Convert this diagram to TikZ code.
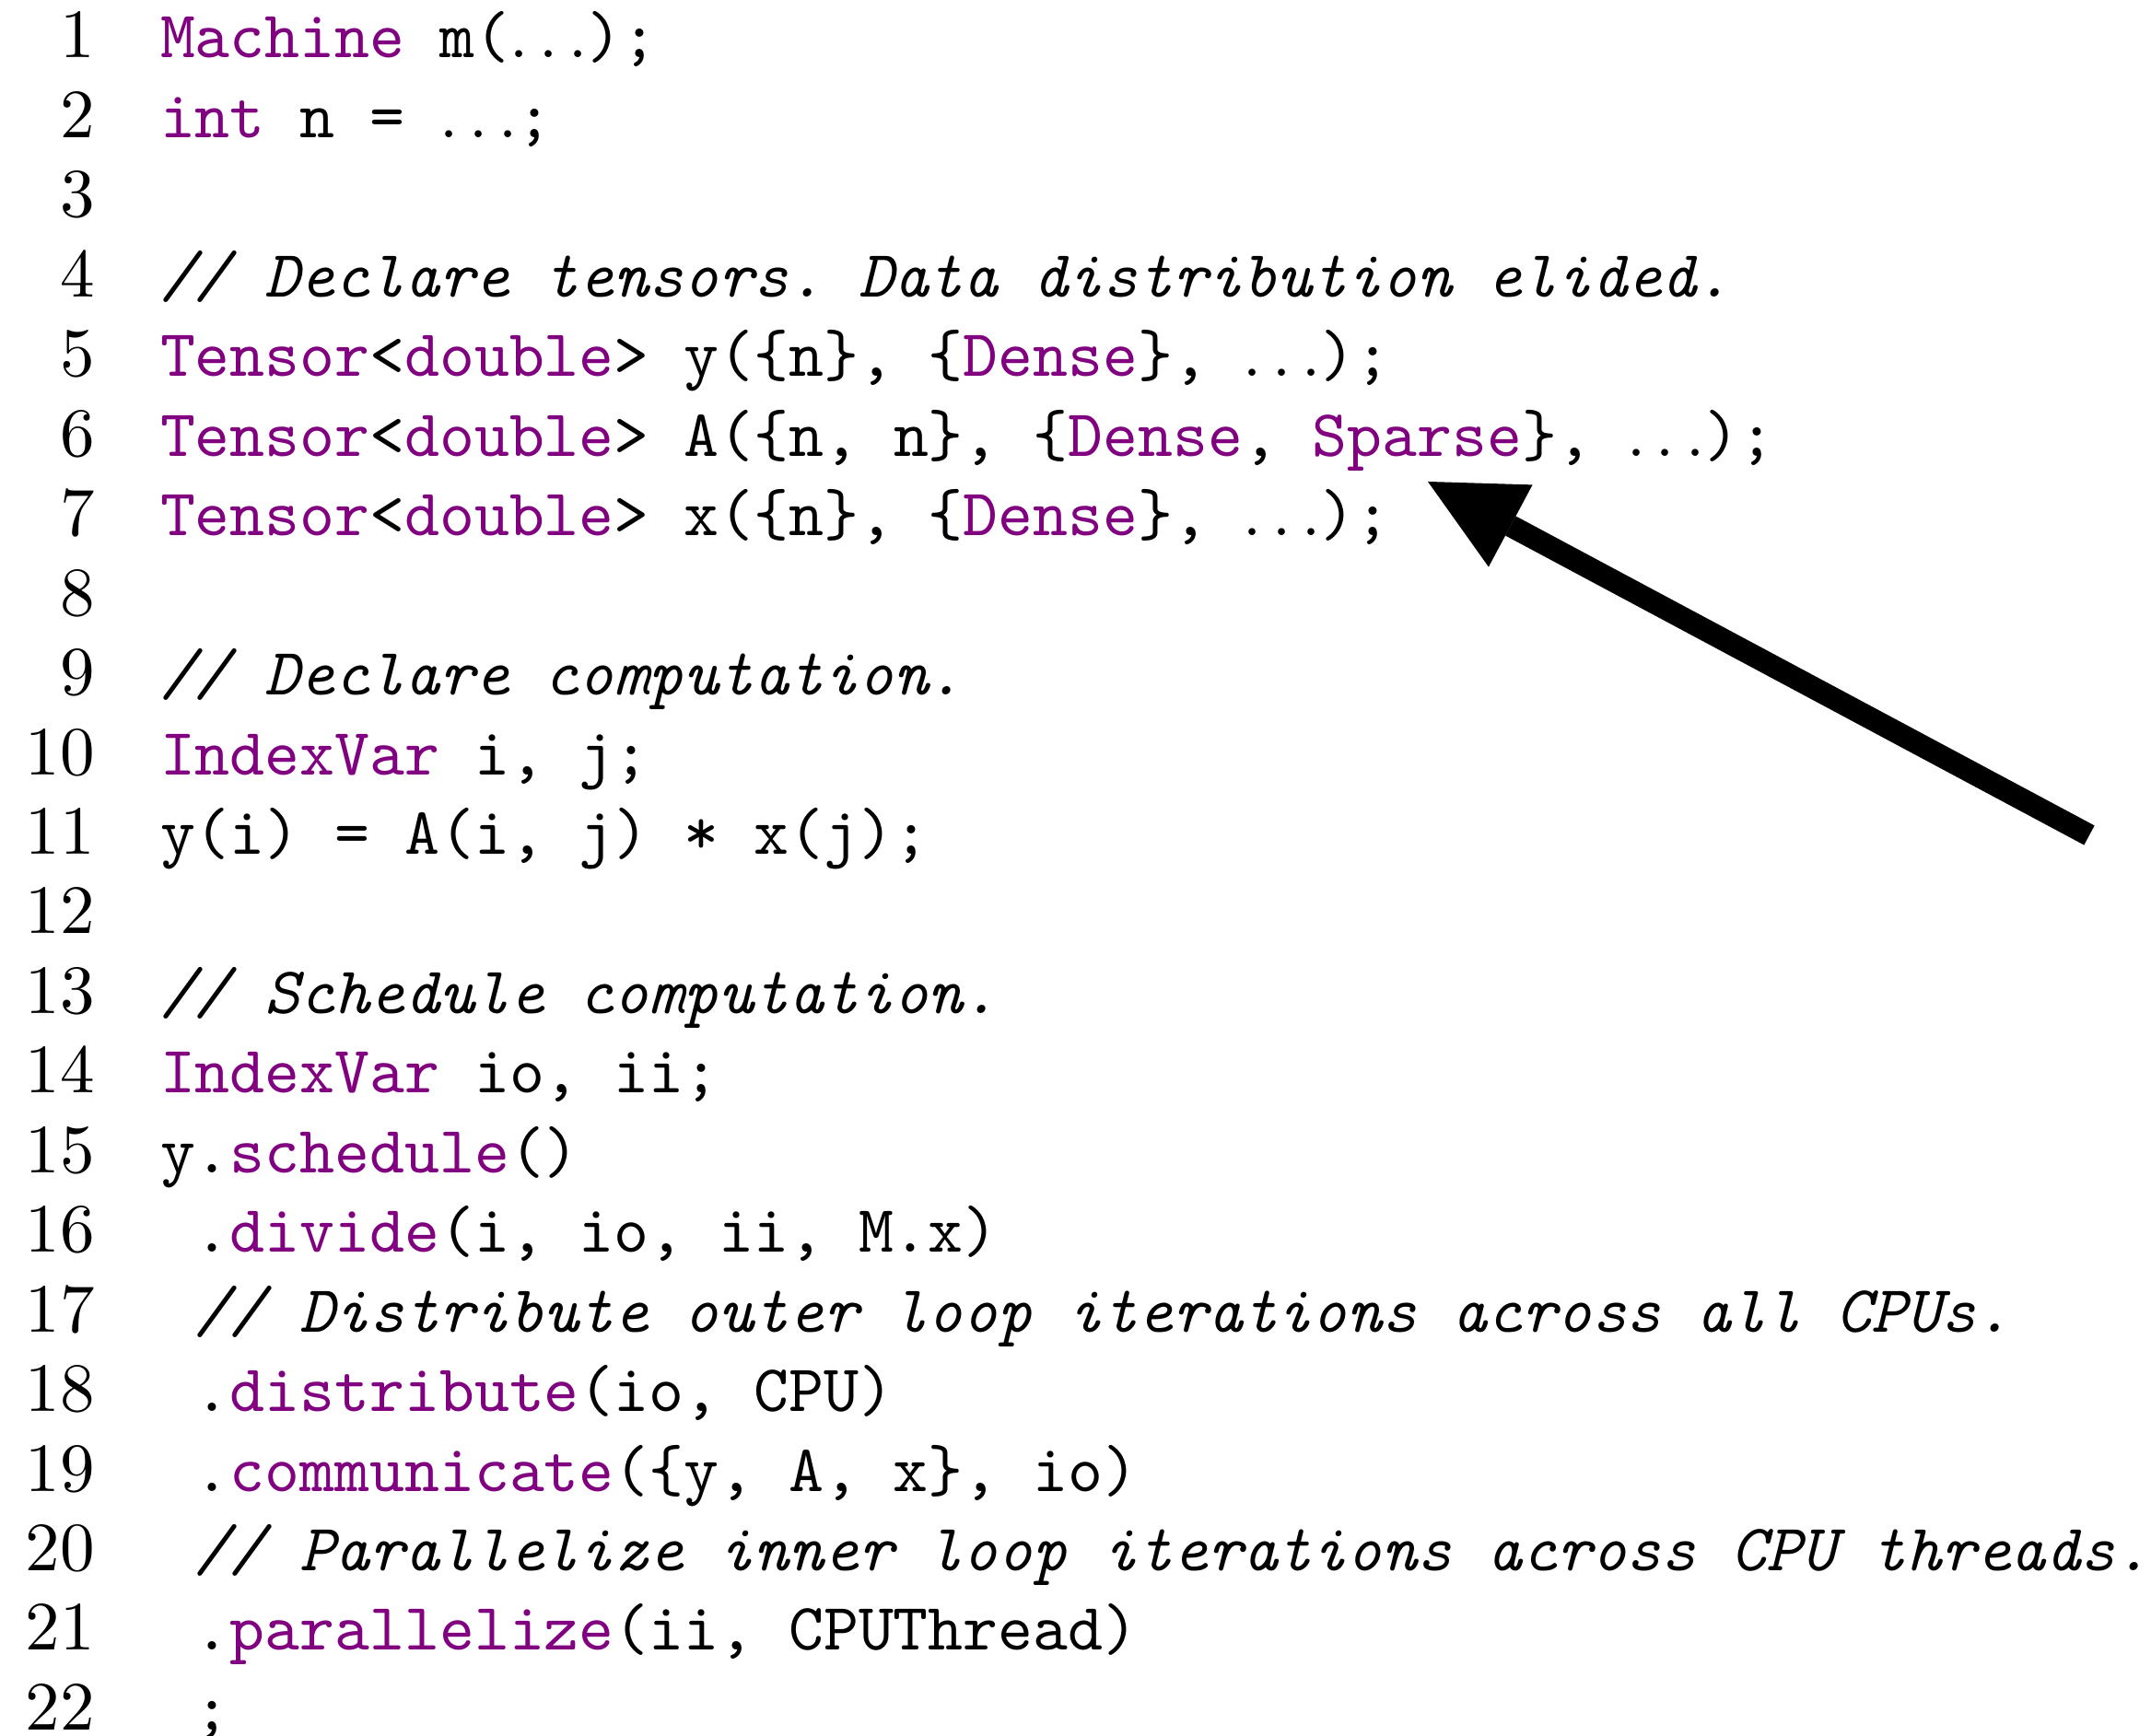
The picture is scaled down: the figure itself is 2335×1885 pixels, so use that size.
\documentclass[tikz,border=0pt]{standalone}
\usepackage{fontspec}
\usetikzlibrary{arrows.meta}
\definecolor{kwpurple}{RGB}{128,0,128}
\newcommand\kw[1]{\textcolor{kwpurple}{#1}}
\newcommand\cmt[1]{\textit{#1}}
\newcommand\elided{$\ldots$}
\frenchspacing
\begin{document}
\begin{tikzpicture}[x=0.1385pt,y=-0.1385pt,
  codeline/.style={anchor=base west,inner sep=0pt,outer sep=0pt,
    font=\fontsize{10}{12}\selectfont\ttfamily\frenchspacing},
  lnum/.style={anchor=base east,inner sep=0pt,outer sep=0pt,
    font=\fontsize{10.4}{12}\selectfont\rmfamily},
  pointer/.style={line width=3.32pt,
    -{Triangle[length=14.1pt,width=14pt,line width=0pt]}}]
  \useasboundingbox (0,0) rectangle (2335,1885);
  % line numbers
  \foreach \i in {1,...,22}
    \node[lnum] (n\i) at (103,{63+(\i-1)*86.45}) {\i};
  % code, one node per line; indented lines start one column to the right
  \def\xa{174}
  \def\xb{211.9}
  \node[codeline] (c1)  at (\xa,63)      {\kw{Machine} m(\elided);};
  \node[codeline] (c2)  at (\xa,149.45)  {\kw{int} n = \elided;};
  \node[codeline] (c4)  at (\xa,322.35)  {\cmt{// Declare tensors. Data distribution elided.}};
  \node[codeline] (c5)  at (\xa,408.8)   {\kw{Tensor}<\kw{double}> y(\{n\}, \{\kw{Dense}\}, \elided);};
  \node[codeline] (c6)  at (\xa,495.25)  {\kw{Tensor}<\kw{double}> A(\{n, n\}, \{\kw{Dense}, \kw{Sparse}\}, \elided);};
  \node[codeline] (c7)  at (\xa,581.7)   {\kw{Tensor}<\kw{double}> x(\{n\}, \{\kw{Dense}\}, \elided);};
  \node[codeline] (c9)  at (\xa,754.6)   {\cmt{// Declare computation.}};
  \node[codeline] (c10) at (\xa,841.05)  {\kw{IndexVar} i, j;};
  \node[codeline] (c11) at (\xa,927.5)   {y(i) = A(i, j) * x(j);};
  \node[codeline] (c13) at (\xa,1100.4)  {\cmt{// Schedule computation.}};
  \node[codeline] (c14) at (\xa,1186.85) {\kw{IndexVar} io, ii;};
  \node[codeline] (c15) at (\xa,1273.3)  {y.\kw{schedule}()};
  \node[codeline] (c16) at (\xb,1359.75) {.\kw{divide}(i, io, ii, M.x)};
  \node[codeline] (c17) at (\xb,1446.2)  {\cmt{// Distribute outer loop iterations across all CPUs.}};
  \node[codeline] (c18) at (\xb,1532.65) {.\kw{distribute}(io, CPU)};
  \node[codeline] (c19) at (\xb,1619.1)  {.\kw{communicate}(\{y, A, x\}, io)};
  \node[codeline] (c20) at (\xb,1705.55) {\cmt{// Parallelize inner loop iterations across CPU threads.}};
  \node[codeline] (c21) at (\xb,1792)    {.\kw{parallelize}(ii, CPUThread)};
  \node[codeline] (c22) at (\xb,1878.45) {;};
  % pointer to the sparse level format
  \coordinate (tail) at (2268,907);
  \coordinate (tip) at (1550,523);
  \draw[pointer] (tail) -- (tip);
\end{tikzpicture}
\end{document}
